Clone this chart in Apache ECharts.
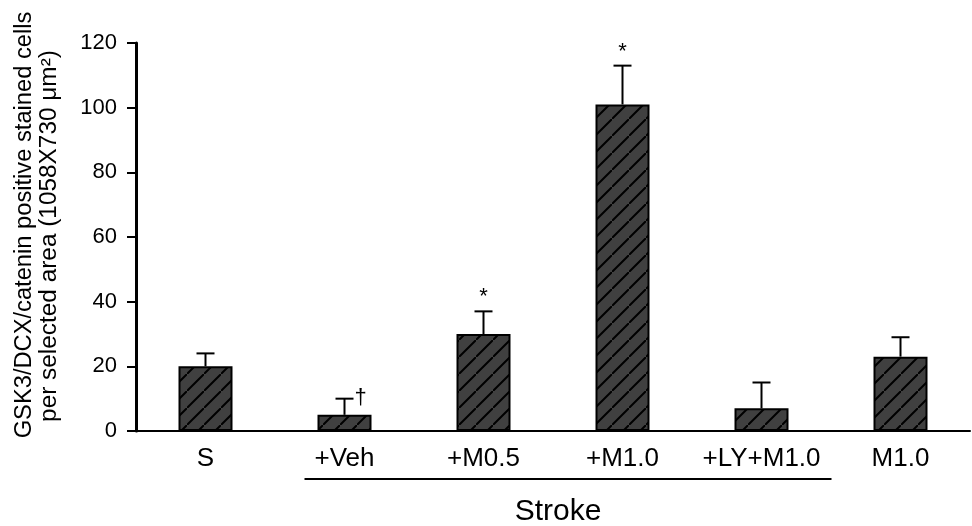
<!DOCTYPE html>
<html>
<head>
<meta charset="utf-8">
<script src="https://cdn.jsdelivr.net/npm/echarts@6/dist/echarts.min.js"></script>
<style>
  html, body { margin: 0; padding: 0; background: #fff; overflow: hidden; }
  #chart { width: 972px; height: 526px; }
</style>
</head>
<body>
<div id="chart"></div>
<script>
// 数据
var categories = ['S', '+Veh', '+M0.5', '+M1.0', '+LY+M1.0', 'M1.0']
var means = [20, 5, 30, 101, 7, 23]
var errors = [4, 5, 7, 12, 8, 6]
var marks = ['', '\u2020', '*', '*', '', '']
var yTicks = [0, 20, 40, 60, 80, 100, 120]
var yTitle = ['GSK3/DCX/catenin positive stained cells', 'per selected area (1058X730 \u03bcm\u00b2)']
var groupLabel = 'Stroke'
var groupFrom = 1, groupTo = 4

var FONT = 'Liberation Sans, Arial, sans-serif'

// 斜线填充
function hatch() {
  var n = 17
  var c = document.createElement('canvas')
  c.width = n; c.height = n
  var g = c.getContext('2d')
  g.fillStyle = '#404040'
  g.fillRect(0, 0, n, n)
  g.strokeStyle = '#000'
  g.lineWidth = 2
  g.beginPath()
  g.moveTo(-2, n + 2); g.lineTo(n + 2, -2)
  g.moveTo(-n - 2, 2); g.lineTo(2, -n - 2)
  g.moveTo(n - 2, 2 * n + 2); g.lineTo(2 * n + 2, n - 2)
  g.stroke()
  return c
}

var chart = echarts.init(document.getElementById('chart'))
var errData = means.map(function (m, i) { return [i, m, m + errors[i], marks[i]] })

chart.setOption({
  animation: false,
  grid: { left: 136, right: 2, top: 43, bottom: 95 },
  xAxis: {
    type: 'category',
    data: categories,
    axisLine: { lineStyle: { color: '#000', width: 2 } },
    axisTick: { show: false },
    axisLabel: { interval: 0, color: '#000', fontSize: 26, fontFamily: FONT, margin: 15 }
  },
  yAxis: {
    type: 'value',
    min: yTicks[0],
    max: yTicks[yTicks.length - 1],
    interval: 20,
    splitLine: { show: false },
    axisLine: { show: true, lineStyle: { color: '#000', width: 3 } },
    axisTick: { show: true, length: 9, lineStyle: { color: '#000', width: 2 } },
    axisLabel: { color: '#000', fontSize: 22, fontFamily: FONT, margin: 19 }
  },
  series: [
    {
      type: 'bar',
      data: means,
      barWidth: 54,
      itemStyle: { color: { image: hatch(), repeat: 'repeat' }, borderColor: '#000', borderWidth: 2 },
      z: 2
    },
    {
      type: 'custom',
      data: errData,
      z: 3,
      renderItem: function (params, api) {
        var x = api.value(0)
        var p0 = api.coord([x, api.value(1)])
        var p1 = api.coord([x, api.value(2)])
        var w = 9
        var st = { stroke: '#000', lineWidth: 2 }
        var kids = [
          { type: 'line', shape: { x1: p0[0], y1: p0[1], x2: p1[0], y2: p1[1] }, style: st },
          { type: 'line', shape: { x1: p1[0] - w, y1: p1[1], x2: p1[0] + w, y2: p1[1] }, style: st }
        ]
        var m = api.value(3)
        if (m === '*') {
          kids.push({ type: 'text', style: { text: m, x: p1[0], y: p1[1] - 3, align: 'center', verticalAlign: 'bottom', fill: '#000', font: '22px ' + FONT } })
        } else if (m) {
          kids.push({ type: 'text', style: { text: m, x: p1[0] + 16, y: p1[1] - 1, align: 'center', verticalAlign: 'middle', fill: '#000', font: '22px ' + FONT } })
        }
        return { type: 'group', children: kids }
      }
    }
  ]
})

// 纵轴标题 + Stroke 分组线
var a = chart.convertToPixel({ xAxisIndex: 0 }, groupFrom) - 40
var b = chart.convertToPixel({ xAxisIndex: 0 }, groupTo) + 70
chart.setOption({
  graphic: [
    { type: 'text', x: 25, y: 225, rotation: Math.PI / 2, scaleX: 1.03,
      style: { text: yTitle[0], align: 'center', verticalAlign: 'middle', fill: '#000', font: '23px ' + FONT } },
    { type: 'text', x: 50, y: 236, rotation: Math.PI / 2, scaleX: 1.06,
      style: { text: yTitle[1], align: 'center', verticalAlign: 'middle', fill: '#000', font: '23px ' + FONT } },
    { type: 'line', shape: { x1: a, y1: 479, x2: b, y2: 479 }, style: { stroke: '#000', lineWidth: 2 } },
    { type: 'text', x: (a + b) / 2 - 10, y: 512, style: { text: groupLabel, align: 'center', verticalAlign: 'middle', fill: '#000', font: '30px ' + FONT } }
  ]
})
</script>
</body>
</html>
